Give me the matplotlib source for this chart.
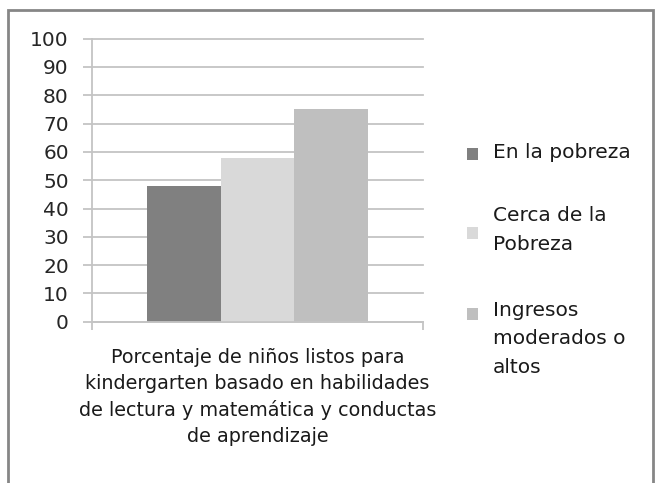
# Bar chart: kindergarten readiness by income level
import matplotlib
matplotlib.use("Agg")
import matplotlib.pyplot as plt
from matplotlib.patches import Rectangle

category = "Porcentaje de niños listos para\nkindergarten basado en habilidades\nde lectura y matemática y conductas\nde aprendizaje"
series = ["En la pobreza", "Cerca de la\nPobreza", "Ingresos\nmoderados o\naltos"]
values = [48, 58, 75]
colors = ["#808080", "#d9d9d9", "#bfbfbf"]
yticks = [0, 10, 20, 30, 40, 50, 60, 70, 80, 90, 100]

plt.rcParams['font.family'] = ['DejaVu Sans']

W, H = 660, 483
fig = plt.figure(figsize=(W / 100, H / 100), dpi=100)
ax = fig.add_axes([91.7 / W, 1 - 321.7 / H, (423.3 - 91.7) / W, (321.7 - 38.7) / H])

bar_w = 0.222
n = len(values)
for i, (v, c) in enumerate(zip(values, colors)):
    x = (i - (n - 1) / 2) * bar_w
    ax.bar(x, v, width=bar_w, color=c, zorder=3, linewidth=0)

grid_c = "#c4c4c4"
ax.set_ylim(0, 100)
ax.set_xlim(-0.5, 0.5)
ax.set_yticks(yticks)
ax.set_yticklabels([str(t) for t in yticks], fontsize=14.5, color="#262626")
ax.yaxis.grid(True, color=grid_c, linewidth=1.3, zorder=0)
for gl in ax.get_ygridlines():
    gl.set_clip_on(False)
ax.tick_params(axis='y', direction='out', length=6.5, width=1.3, color=grid_c, pad=10)

ax.set_xticks([-0.5, 0.5])
ax.set_xticklabels(["", ""])
ax.tick_params(axis='x', which='major', direction='out', length=6, width=1.3, color=grid_c)
ax.set_xticks([0], labels=[category], minor=True)
ax.tick_params(axis='x', which='minor', length=0, pad=19, labelsize=13.8, labelcolor="#1a1a1a")
for lab in ax.get_xticklabels(minor=True):
    lab.set_linespacing(1.45)

for s in ["top", "right"]:
    ax.spines[s].set_visible(False)
for s in ["left", "bottom"]:
    ax.spines[s].set_color(grid_c)
    ax.spines[s].set_linewidth(1.3)
ax.spines["bottom"].set_zorder(4)

# legend drawn by hand to match the marker placement of the original
marker_y = [154, 233, 314]
text_mid = [153, 230, 339]
for name, c, my, ty in zip(series, colors, marker_y, text_mid):
    fig.add_artist(Rectangle((467 / W, 1 - (my + 6) / H), 11 / W, 12 / H,
                             transform=fig.transFigure, color=c, linewidth=0))
    fig.text(493 / W, 1 - ty / H, name, ha='left', va='center', fontsize=14.5,
             color="#1a1a1a", linespacing=1.65)

# outer frame
fig.add_artist(Rectangle((8 / W, -0.05), (653 - 8) / W, 1.05 - 10 / H,
                         transform=fig.transFigure, fill=False,
                         edgecolor="#868686", linewidth=2))

fig.savefig("out.png", dpi=100)
